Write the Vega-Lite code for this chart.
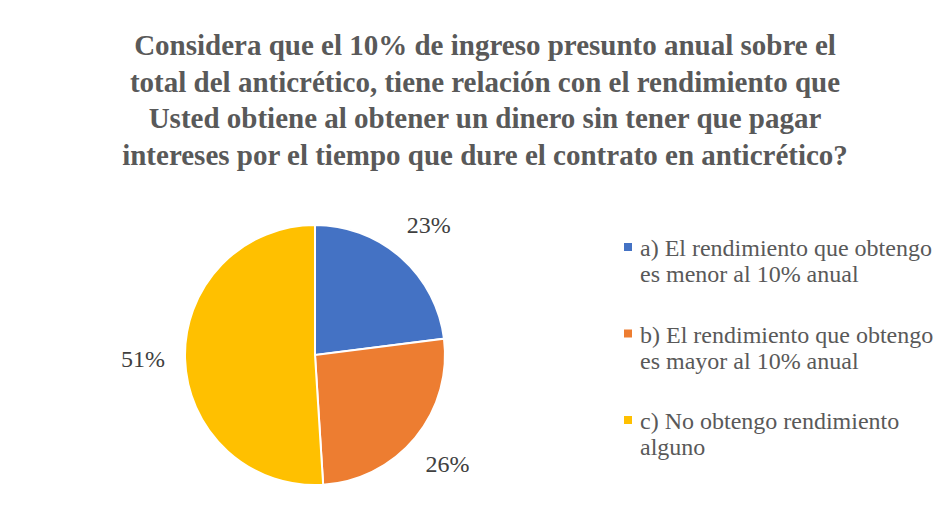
{
  "$schema": "https://vega.github.io/schema/vega-lite/v6.json",
  "autosize": "none",
  "width": 260,
  "height": 260,
  "padding": {"left": 185, "top": 225, "right": 507, "bottom": 46},
  "background": "white",
  "config": {"view": {"stroke": null}, "font": "Times New Roman, Liberation Serif, serif"},
  "title": {
    "text": [
      "Considera que el 10% de ingreso presunto anual sobre el",
      "total del anticrético, tiene relación con el rendimiento que",
      "Usted obtiene al obtener un dinero sin tener que pagar",
      "intereses por el tiempo que dure el contrato en anticrético?"
    ],
    "font": "Times New Roman, Liberation Serif, serif",
    "fontSize": 29,
    "fontWeight": "bold",
    "color": "#595959",
    "lineHeight": 36.5,
    "anchor": "middle",
    "frame": "group",
    "dx": 170,
    "offset": 43
  },
  "data": {
    "values": [
      {"cat": "a) El rendimiento que obtengo es menor al 10% anual", "pct": 0.23},
      {"cat": "b) El rendimiento que obtengo es mayor al 10% anual", "pct": 0.26},
      {"cat": "c) No obtengo rendimiento alguno", "pct": 0.51}
    ]
  },
  "encoding": {
    "theta": {"field": "pct", "type": "quantitative", "stack": true},
    "order": {"field": "cat", "type": "nominal"},
    "color": {
      "field": "cat",
      "type": "nominal",
      "scale": {
        "domain": [
          "a) El rendimiento que obtengo es menor al 10% anual",
          "b) El rendimiento que obtengo es mayor al 10% anual",
          "c) No obtengo rendimiento alguno"
        ],
        "range": ["#4472C4", "#ED7D31", "#FFC000"]
      },
      "legend": {
        "title": null,
        "orient": "none",
        "legendX": 431,
        "legendY": 19,
        "padding": 0,
        "symbolType": "M-1,-3.25H1V-1.25H-1Z",
        "symbolSize": 64,
        "symbolStrokeWidth": 0,
        "labelFont": "Times New Roman, Liberation Serif, serif",
        "labelFontSize": 24,
        "labelColor": "#595959",
        "labelLimit": 400,
        "labelOffset": 0,
        "labelBaseline": "alphabetic",
        "rowPadding": 36.5,
        "labelExpr": "split(replace(replace(datum.label, ' es ', '|es '), ' alguno', '|alguno'), '|')"
      }
    }
  },
  "layer": [
    {"mark": {"type": "arc", "stroke": "white", "strokeWidth": 2}},
    {
      "mark": {"type": "text", "radius": 172, "font": "Times New Roman, Liberation Serif, serif", "fontSize": 24},
      "encoding": {
        "text": {"field": "pct", "type": "quantitative", "format": ".0%"},
        "color": {"value": "#404040"},
        "detail": {"field": "cat", "type": "nominal"}
      }
    }
  ]
}
